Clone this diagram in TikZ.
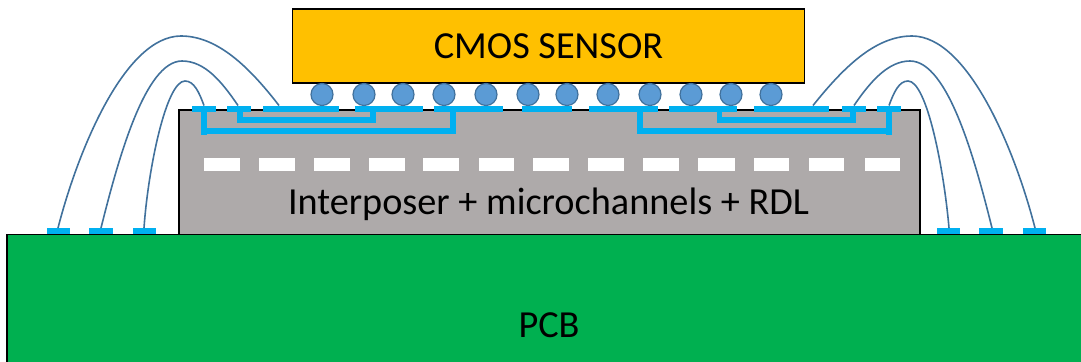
\documentclass[tikz,border=0pt]{standalone}
\usepackage{fontspec}
\setmainfont{Carlito}
\definecolor{pcbgreen}{HTML}{00B050}
\definecolor{sensorgold}{HTML}{FFC000}
\definecolor{intergrey}{HTML}{AEAAAA}
\definecolor{cu}{HTML}{00B0F0}
\definecolor{ball}{HTML}{5B9BD5}
\definecolor{ballline}{HTML}{41719C}
\tikzset{
  x=0.75pt,y=-0.75pt,
  block/.style={draw=black,line width=1.3pt,line join=miter},
  bump/.style={circle,fill=ball,draw=ballline,line width=0.9pt,minimum size=16.5pt,inner sep=0pt},
  wire/.style={draw=ballline,line width=1.2pt},
  lbl/.style={font=\fontsize{28.7pt}{33pt}\selectfont,text=black,inner sep=0pt},
}
\begin{document}
\begin{tikzpicture}
\useasboundingbox (0,0) rectangle (1081,361);
\begin{scope}
\clip (0,0) rectangle (1081,361);
% PCB
\path[block,fill=pcbgreen] (7,234.5) rectangle (1090,372);
% Interposer
\path[block,fill=intergrey] (179,110) rectangle (920,234.5);
% Sensor
\path[block,fill=sensorgold] (292.5,9) rectangle (804.5,83);
\end{scope}
% microchannels
\foreach \a/\b in {204/240,259/295,314/350,369/405,423/459,479/514,533/569,588/624,643/679,698/735,754/789,809/844,865/900}
  \fill[white] (\a,157.5) rectangle (\b,170.5);
% RDL traces
\fill[cu] (201,111) rectangle (207,135);
\fill[cu] (201,128) rectangle (456,134);
\fill[cu] (450,111) rectangle (456,134);
\fill[cu] (237,111) rectangle (243,123);
\fill[cu] (237,117) rectangle (376,123);
\fill[cu] (370,111) rectangle (376,123);
\fill[cu] (637,111) rectangle (643,134);
\fill[cu] (637,128) rectangle (892,134);
\fill[cu] (886,111) rectangle (892,135);
\fill[cu] (717,111) rectangle (722,123);
\fill[cu] (717,117) rectangle (856,123);
\fill[cu] (850,111) rectangle (856,123);
% top pads
\foreach \a/\b in {192/216,226.5/251,263/339,355/423,434/503,522/572,589/658,669/737,754/829,842/866,877/901}
  \fill[cu] (\a,105.5) rectangle (\b,111.5);
% PCB pads
\foreach \a/\b in {47/70,89/113,133/156,937/960,979/1003,1023/1046}
  \fill[cu] (\a,228) rectangle (\b,234);
% bumps
\foreach \n/\a in {1/322,2/364,3/403,4/444,5/486,6/528,7/567,8/608,9/650,10/691,11/731,12/771}
  \node[bump] (b\n) at (\a,94.5) {};
% wire ends
\coordinate (l1a) at (58,228);  \coordinate (l1t) at (181,36); \coordinate (l1b) at (279,105.5);
\coordinate (l2a) at (101,228); \coordinate (l2t) at (182,61); \coordinate (l2b) at (238,105.5);
\coordinate (l3a) at (144,228); \coordinate (l3t) at (185,81); \coordinate (l3b) at (204,105.5);
\coordinate (r1a) at (1035,228); \coordinate (r1t) at (912,36); \coordinate (r1b) at (813,105.5);
\coordinate (r2a) at (992,228);  \coordinate (r2t) at (910,61); \coordinate (r2b) at (854,105.5);
\coordinate (r3a) at (949,228);  \coordinate (r3t) at (908,81); \coordinate (r3b) at (889,105.5);
\draw[wire] (l1a) .. controls (78,150) and (125,36) .. (l1t) .. controls (218,36) and (250,68) .. (l1b);
\draw[wire] (l2a) .. controls (118,160) and (145,61) .. (l2t) .. controls (205,61) and (222,82) .. (l2b);
\draw[wire] (l3a) .. controls (148,170) and (166,81) .. (l3t) .. controls (194,81) and (199,92) .. (l3b);
\draw[wire] (r1a) .. controls (1015,150) and (968,36) .. (r1t) .. controls (875,36) and (843,68) .. (r1b);
\draw[wire] (r2a) .. controls (975,160) and (948,61) .. (r2t) .. controls (888,61) and (870,82) .. (r2b);
\draw[wire] (r3a) .. controls (944,170) and (927,81) .. (r3t) .. controls (899,81) and (894,92) .. (r3b);
% labels
\node[lbl] (sensor) at (548.5,46) {CMOS SENSOR};
\node[lbl] (inter) at (548.5,204.5) {Interposer + microchannels + RDL};
\node[lbl] (pcb) at (549,325) {PCB};
\end{tikzpicture}
\end{document}
